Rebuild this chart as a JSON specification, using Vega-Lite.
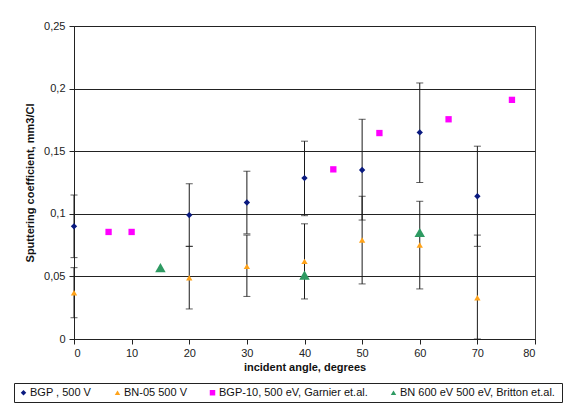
{
  "$schema": "https://vega.github.io/schema/vega-lite/v6.json",
  "autosize": {"type": "none"},
  "padding": {"left": 74, "top": 26, "right": 35, "bottom": 75},
  "width": 461,
  "height": 313,
  "background": "white",
  "config": {
    "font": "Liberation Sans",
    "view": {"stroke": "#444", "strokeWidth": 1}
  },
  "datasets": {
    "pts": [
      {"series": "BGP , 500 V", "angle": 0, "value": 0.09},
      {"series": "BGP , 500 V", "angle": 20, "value": 0.099},
      {"series": "BGP , 500 V", "angle": 30, "value": 0.109},
      {"series": "BGP , 500 V", "angle": 40, "value": 0.1285},
      {"series": "BGP , 500 V", "angle": 50, "value": 0.135},
      {"series": "BGP , 500 V", "angle": 60, "value": 0.165},
      {"series": "BGP , 500 V", "angle": 70, "value": 0.114},
      {"series": "BN-05 500 V", "angle": 0, "value": 0.037},
      {"series": "BN-05 500 V", "angle": 20, "value": 0.049},
      {"series": "BN-05 500 V", "angle": 30, "value": 0.058},
      {"series": "BN-05 500 V", "angle": 40, "value": 0.062},
      {"series": "BN-05 500 V", "angle": 50, "value": 0.079},
      {"series": "BN-05 500 V", "angle": 60, "value": 0.075},
      {"series": "BN-05 500 V", "angle": 70, "value": 0.033},
      {"series": "BGP-10, 500 eV, Garnier et.al.", "angle": 6, "value": 0.0855},
      {"series": "BGP-10, 500 eV, Garnier et.al.", "angle": 10, "value": 0.0855},
      {"series": "BGP-10, 500 eV, Garnier et.al.", "angle": 45, "value": 0.1355},
      {"series": "BGP-10, 500 eV, Garnier et.al.", "angle": 53, "value": 0.1645},
      {"series": "BGP-10, 500 eV, Garnier et.al.", "angle": 65, "value": 0.1755},
      {"series": "BGP-10, 500 eV, Garnier et.al.", "angle": 76, "value": 0.191},
      {"series": "BN 600 eV  500 eV, Britton et.al.", "angle": 15, "value": 0.057},
      {"series": "BN 600 eV  500 eV, Britton et.al.", "angle": 40, "value": 0.051},
      {"series": "BN 600 eV  500 eV, Britton et.al.", "angle": 60, "value": 0.085}
    ],
    "err": [
      {"angle": 0, "lo": 0.065, "hi": 0.115},
      {"angle": 20, "lo": 0.074, "hi": 0.124},
      {"angle": 30, "lo": 0.084, "hi": 0.134},
      {"angle": 40, "lo": 0.0985, "hi": 0.158},
      {"angle": 50, "lo": 0.095, "hi": 0.1755},
      {"angle": 60, "lo": 0.125, "hi": 0.2045},
      {"angle": 70, "lo": 0.074, "hi": 0.154},
      {"angle": 0, "lo": 0.017, "hi": 0.057},
      {"angle": 20, "lo": 0.024, "hi": 0.074},
      {"angle": 30, "lo": 0.034, "hi": 0.083},
      {"angle": 40, "lo": 0.032, "hi": 0.092},
      {"angle": 50, "lo": 0.044, "hi": 0.114},
      {"angle": 60, "lo": 0.040, "hi": 0.110},
      {"angle": 70, "lo": 0.0, "hi": 0.083}
    ]
  },
  "encoding": {
    "x": {
      "field": "angle", "type": "quantitative",
      "scale": {"domain": [0, 80], "nice": false, "zero": false},
      "axis": {
        "title": "incident angle, degrees", "titleFontSize": 11, "titleFontWeight": "bold", "titleColor": "#111",
        "values": [0, 10, 20, 30, 40, 50, 60, 70, 80],
        "labelFontSize": 11, "labelColor": "#222", "labelFontWeight": "normal",
        "domainColor": "#222", "tickColor": "#222", "tickSize": 5, "labelPadding": 3, "titlePadding": 3,
        "grid": false
      }
    }
  },
  "layer": [
    {
      "data": {"name": "err"},
      "mark": {"type": "errorbar", "ticks": {"size": 7, "thickness": 1, "color": "#1a1a1a"}, "rule": {"color": "#1a1a1a", "strokeWidth": 1}},
      "encoding": {
        "y": {"field": "lo", "type": "quantitative", "title": "Sputtering coefficient, mm3/Cl"},
        "y2": {"field": "hi"}
      }
    },
    {
      "data": {"name": "pts"},
      "transform": [{"filter": "datum.series != 'BN 600 eV  500 eV, Britton et.al.'"}],
      "mark": {"type": "point", "filled": true, "opacity": 1, "size": 40},
      "encoding": {
        "y": {
          "field": "value", "type": "quantitative",
          "scale": {"domain": [0, 0.25], "nice": false, "zero": true},
          "axis": {
            "title": "Sputtering coefficient, mm3/Cl", "titleFontSize": 11, "titleFontWeight": "bold", "titleColor": "#111",
            "values": [0, 0.05, 0.1, 0.15, 0.2, 0.25],
            "labelExpr": "replace(format(datum.value, '.2~f'), '.', ',')",
            "labelFontSize": 11, "labelColor": "#222",
            "domainColor": "#222", "tickColor": "#222", "tickSize": 5, "labelPadding": 4, "titlePadding": 8,
            "grid": true, "gridColor": "#222", "gridWidth": 1, "gridOpacity": 1
          }
        },
        "color": {
          "field": "series", "type": "nominal",
          "scale": {
            "domain": ["BGP , 500 V", "BN-05 500 V", "BGP-10, 500 eV, Garnier et.al.", "BN 600 eV  500 eV, Britton et.al."],
            "range": ["#0a1a80", "#ffa31a", "#ff00ff", "#2e9a62"]
          },
          "legend": {
            "title": null, "orient": "none", "legendX": -60, "legendY": 357,
            "direction": "horizontal", "columns": 4, "columnPadding": 20,
            "strokeColor": "#222", "padding": 4, "labelFontSize": 11, "labelColor": "#111",
            "symbolSize": 30, "symbolOffset": 0, "labelOffset": 1, "symbolStrokeWidth": 0
          }
        },
        "shape": {
          "field": "series", "type": "nominal",
          "scale": {
            "domain": ["BGP , 500 V", "BN-05 500 V", "BGP-10, 500 eV, Garnier et.al.", "BN 600 eV  500 eV, Britton et.al."],
            "range": ["diamond", "triangle-up", "square", "triangle-up"]
          }
        }
      }
    },
    {
      "data": {"name": "pts"},
      "transform": [{"filter": "datum.series == 'BN 600 eV  500 eV, Britton et.al.'"}],
      "mark": {"type": "point", "filled": true, "opacity": 1, "size": 110},
      "encoding": {
        "y": {"field": "value", "type": "quantitative", "title": "Sputtering coefficient, mm3/Cl"},
        "color": {"field": "series", "type": "nominal"},
        "shape": {"field": "series", "type": "nominal"}
      }
    }
  ]
}
